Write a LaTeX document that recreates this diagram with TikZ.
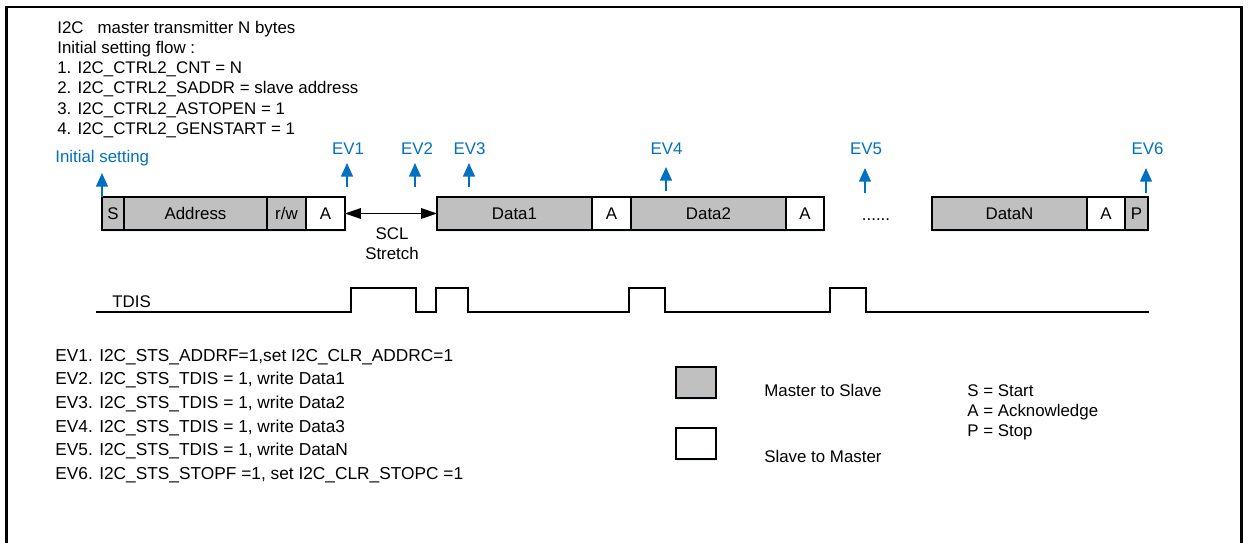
\documentclass[tikz,border=0pt]{standalone}
\usepackage{fontspec}
\setmainfont{Liberation Sans}
\usetikzlibrary{arrows.meta, positioning, shadows}
\definecolor{evblue}{RGB}{0,112,192}
\definecolor{boxgray}{RGB}{192,192,192}

\begin{document}
\begin{tikzpicture}[
  x=0.02cm, y=-0.02cm,
  every node/.style={font=\fontsize{9.6}{11.5}\selectfont, inner sep=0pt},
  field/.style={draw, line width=0.75pt, outer sep=0pt, minimum height=0.66cm, anchor=west,
    drop shadow={shadow xshift=0.3pt, shadow yshift=-1.2pt, fill=evblue!12, opacity=0.8}},
  master/.style={field, fill=boxgray},
  slave/.style={field, fill=white},
  textline/.style={anchor=base west},
  event/.style={anchor=base, text=evblue},
  evarrow/.style={draw=evblue, line width=0.9pt, -{Triangle[width=6.8pt,length=7.8pt]}},
  stretch/.style={line width=0.75pt, {Triangle[width=6pt,length=9pt]}-{Triangle[width=6pt,length=9pt]}},
  wave/.style={line width=0.8pt}
]
\useasboundingbox (0,0) rectangle (1248,543);

% Frame
\draw[line width=1.4pt] (6.5,543) -- (6.5,7) -- (1241.5,7) -- (1241.5,543);

% Initial setting flow
\node[align=left, anchor=north west] (flow) at (57,20.7)
  {I2C~~ master transmitter N bytes\\
   Initial setting flow :\\
   1. I2C\_CTRL2\_CNT = N\\
   2. I2C\_CTRL2\_SADDR = slave address\\
   3. I2C\_CTRL2\_ASTOPEN = 1\\
   4. I2C\_CTRL2\_GENSTART = 1};

% Address frame
\node[master, minimum width=0.44cm] (s) at (102,213.5) {S};
\node[master, minimum width=2.86cm, right=0pt of s] (address) {Address};
\node[master, minimum width=0.78cm, right=0pt of address] (rw) {r/w};
\node[slave, minimum width=0.78cm, right=0pt of rw] (ack1) {A};

% Data frames
\node[master, minimum width=3.1cm] (data1) at (437,213.5) {Data1};
\node[slave, minimum width=0.78cm, right=0pt of data1] (ack2) {A};
\node[master, minimum width=3.1cm, right=0pt of ack2] (data2) {Data2};
\node[slave, minimum width=0.76cm, right=0pt of data2] (ack3) {A};
\node[anchor=base] (dots) at (876,221) {......};
\node[master, minimum width=3.1cm] (datan) at (932,213.5) {DataN};
\node[slave, minimum width=0.76cm, right=0pt of datan] (ack4) {A};
\node[master, minimum width=0.46cm, right=0pt of ack4] (stop) {P};

% SCL stretch
\draw[stretch] (ack1.east) -- (data1.west);
\node[align=center, anchor=north] (scl) at (392,227) {SCL\\Stretch};

% Events
\node[textline, text=evblue] (init) at (55,163) {Initial setting};
\node[event] (ev1) at (348,154.5) {EV1};
\node[event] (ev2) at (417,154.5) {EV2};
\node[event] (ev3) at (469.5,154.5) {EV3};
\node[event] (ev4) at (666.5,154.5) {EV4};
\node[event] (ev5) at (866,154.5) {EV5};
\node[event] (ev6) at (1147.5,154.5) {EV6};

\coordinate (init_tip) at (102,173);
\coordinate (ev1_tail) at (347,187);  \coordinate (ev1_tip) at (347,163);
\coordinate (ev2_tail) at (415,187);  \coordinate (ev2_tip) at (415,163);
\coordinate (ev3_tail) at (469,187);  \coordinate (ev3_tip) at (469,163);
\coordinate (ev4_tail) at (666,191);  \coordinate (ev4_tip) at (666,167);
\coordinate (ev5_tail) at (865,193);  \coordinate (ev5_tip) at (865,168);
\coordinate (ev6_tail) at (1146,193); \coordinate (ev6_tip) at (1146,168);

\draw[evarrow] (s.north west) -- (init_tip);
\draw[evarrow] (ev1_tail) -- (ev1_tip);
\draw[evarrow] (ev2_tail) -- (ev2_tip);
\draw[evarrow] (ev3_tail) -- (ev3_tip);
\draw[evarrow] (ev4_tail) -- (ev4_tip);
\draw[evarrow] (ev5_tail) -- (ev5_tip);
\draw[evarrow] (ev6_tail) -- (ev6_tip);

% TDIS flag
\node[textline] (tdis) at (112,308) {TDIS};
\draw[wave] (96,312) -- (351,312) -- (351,288) -- (416,288) -- (416,312)
  -- (436,312) -- (436,288) -- (468,288) -- (468,312) -- (629,312)
  -- (629,288) -- (665,288) -- (665,312) -- (830,312) -- (830,288)
  -- (866,288) -- (866,312) -- (1149,312);

% Event list
\node[align=left, anchor=north west, font=\fontsize{9.85}{13.4}\selectfont] (events) at (55,349)
  {EV1. I2C\_STS\_ADDRF=1,set I2C\_CLR\_ADDRC=1\\
   EV2. I2C\_STS\_TDIS = 1, write Data1\\
   EV3. I2C\_STS\_TDIS = 1, write Data2\\
   EV4. I2C\_STS\_TDIS = 1, write Data3\\
   EV5. I2C\_STS\_TDIS = 1, write DataN\\
   EV6. I2C\_STS\_STOPF =1, set I2C\_CLR\_STOPC =1};

% Legend
\node[master, anchor=center, minimum width=0.8cm, minimum height=0.62cm] (legend_master) at (696,382.5) {};
\node[slave, anchor=center, minimum width=0.8cm, minimum height=0.62cm] (legend_slave) at (696,443.5) {};
\node[textline] (m2s) at (764,397) {Master to Slave};
\node[textline] (s2m) at (764,463) {Slave to Master};
\node[align=left, anchor=north west] (key) at (967,384) {S = Start\\A = Acknowledge\\P = Stop};

\end{tikzpicture}
\end{document}
